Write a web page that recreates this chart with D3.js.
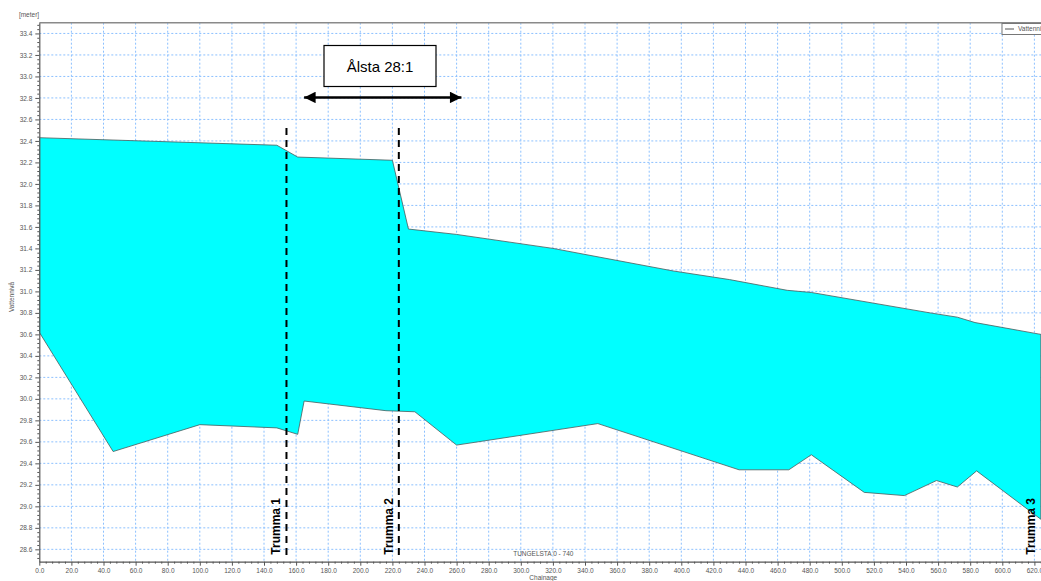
<!DOCTYPE html>
<html>
<head>
<meta charset="utf-8">
<script src="https://cdn.jsdelivr.net/npm/d3@7"></script>
<style>
html,body{margin:0;padding:0;background:#fff;}
svg{display:block;font-family:"Liberation Sans",Arial,sans-serif;}
</style>
</head>
<body>
<svg id="chart" width="1041" height="581"></svg>
<script>
// ---- data ----
const upperChainage = [0, 148, 161, 220, 230, 260, 320, 395, 430, 466, 481, 555, 572, 583, 624];
const upperLevel    = [32.43, 32.36, 32.25, 32.22, 31.58, 31.53, 31.40, 31.19, 31.11, 31.01, 30.99, 30.80, 30.76, 30.71, 30.60];
const lowerChainage = [0, 46, 100, 148, 161, 165, 216, 234, 260, 348, 436, 467, 481, 514, 539, 559, 572, 584, 624];
const lowerLevel    = [30.62, 29.51, 29.76, 29.73, 29.67, 29.98, 29.89, 29.88, 29.57, 29.77, 29.34, 29.34, 29.48, 29.13, 29.10, 29.24, 29.18, 29.33, 28.88];
const xTicks = d3.range(0, 621, 20);
const yTicks = d3.range(28.6, 33.41, 0.2).map(v => +v.toFixed(1));
const culverts = [{name: "Trumma 1", x: 154}, {name: "Trumma 2", x: 224}, {name: "Trumma 3", x: 624}];
const annotationLabel = "Ålsta 28:1";
const annotationRange = [165, 263];
const annotationLevel = 32.8;

// ---- layout ----
const svg = d3.select("#chart");
const L = 39.3, T = 22.7, B = 561.7, R = 1041;
const x = d3.scaleLinear().domain([0, 624]).range([L, L + 624 * 1.605]);
const y = d3.scaleLinear().domain([28.485, 33.5]).range([B, T]);

const defs = svg.append("defs");
defs.append("clipPath").attr("id", "clip")
  .append("rect").attr("x", L).attr("y", T).attr("width", R - L).attr("height", B - T);
defs.append("marker").attr("id", "arrowEnd").attr("viewBox", "0 0 10 10")
  .attr("refX", 10).attr("refY", 5).attr("markerWidth", 6.2).attr("markerHeight", 4.6)
  .attr("markerUnits", "strokeWidth").attr("orient", "auto")
  .append("path").attr("d", "M0,0 L10,5 L0,10 Z").attr("fill", "#000");
defs.append("marker").attr("id", "arrowStart").attr("viewBox", "0 0 10 10")
  .attr("refX", 0).attr("refY", 5).attr("markerWidth", 6.2).attr("markerHeight", 4.6)
  .attr("markerUnits", "strokeWidth").attr("orient", "auto")
  .append("path").attr("d", "M10,0 L0,5 L10,10 Z").attr("fill", "#000");

// grid
const grid = svg.append("g").attr("clip-path", "url(#clip)");
grid.selectAll("line.gx").data(xTicks.filter(d => d > 0)).join("line")
  .attr("x1", d => x(d)).attr("x2", d => x(d)).attr("y1", T).attr("y2", B)
  .attr("stroke", "#8cc0ff").attr("stroke-width", 1).attr("stroke-dasharray", "2,2");
grid.selectAll("line.gy").data(yTicks).join("line")
  .attr("x1", L).attr("x2", R).attr("y1", d => y(d)).attr("y2", d => y(d))
  .attr("stroke", "#8cc0ff").attr("stroke-width", 1).attr("stroke-dasharray", "2,2");

// area polygon
const upperPts = upperChainage.map((c, i) => [c, upperLevel[i]]);
const lowerPts = lowerChainage.map((c, i) => [c, lowerLevel[i]]).reverse();
const poly = upperPts.concat(lowerPts);
const line = d3.line().x(d => x(d[0])).y(d => y(d[1]));
svg.append("g").attr("clip-path", "url(#clip)")
  .append("path").attr("d", line(poly) + "Z")
  .attr("fill", "#00ffff").attr("stroke", "#4a5a5a").attr("stroke-width", 0.8);

// frame top
svg.append("line").attr("x1", L).attr("x2", R).attr("y1", T).attr("y2", T)
  .attr("stroke", "#8a8a8a").attr("stroke-width", 1.5);

// axes
const xAxis = d3.axisBottom(x).tickValues(xTicks).tickFormat(d3.format(".1f")).tickSize(4).tickSizeOuter(0);
const gx = svg.append("g").attr("transform", `translate(0,${B})`).call(xAxis);
gx.select(".domain").attr("stroke", "#555").attr("stroke-width", 1.2);
gx.selectAll(".tick line").attr("stroke", "#555");
gx.selectAll(".tick text").attr("font-size", 6.5).attr("fill", "#555").attr("font-family", "Liberation Sans, Arial");
const xMinor = d3.axisBottom(x).tickValues(d3.range(0, 625, 4).filter(v => v % 20 !== 0)).tickFormat("").tickSize(2).tickSizeOuter(0);
const gxm = svg.append("g").attr("transform", `translate(0,${B})`).call(xMinor);
gxm.select(".domain").remove();
gxm.selectAll(".tick line").attr("stroke", "#555");

const yAxis = d3.axisLeft(y).tickValues(yTicks).tickFormat(d3.format(".1f")).tickSize(4).tickSizeOuter(0);
const gy = svg.append("g").attr("transform", `translate(${L},0)`).call(yAxis);
gy.select(".domain").attr("stroke", "#555").attr("stroke-width", 1.2);
gy.selectAll(".tick line").attr("stroke", "#555");
gy.selectAll(".tick text").attr("font-size", 6.5).attr("fill", "#555").attr("font-family", "Liberation Sans, Arial");
const yMinorVals = d3.range(28.52, 33.5, 0.04).map(v => +v.toFixed(2)).filter(v => Math.abs((v * 5) - Math.round(v * 5)) > 1e-6);
const yMinor = d3.axisLeft(y).tickValues(yMinorVals).tickFormat("").tickSize(2).tickSizeOuter(0);
const gym = svg.append("g").attr("transform", `translate(${L},0)`).call(yMinor);
gym.select(".domain").remove();
gym.selectAll(".tick line").attr("stroke", "#555");

// axis titles
svg.append("text").attr("x", 29).attr("y", 17).attr("text-anchor", "middle")
  .attr("font-size", 6.5).attr("fill", "#555").text("[meter]");
svg.append("text").attr("transform", "translate(14,297) rotate(-90)").attr("text-anchor", "middle")
  .attr("font-size", 6.5).attr("fill", "#555").text("Vattennivå");
svg.append("text").attr("x", x(314)).attr("y", 580).attr("text-anchor", "middle")
  .attr("font-size", 6.5).attr("fill", "#555").text("Chainage");
svg.append("text").attr("x", x(314)).attr("y", 556).attr("text-anchor", "middle")
  .attr("font-size", 6.5).attr("fill", "#555").text("TUNGELSTA  0 - 740");

// legend
const lg = svg.append("g");
lg.append("rect").attr("x", 1002).attr("y", 23.5).attr("width", 60).attr("height", 11)
  .attr("fill", "#fff").attr("stroke", "#777").attr("stroke-width", 1);
lg.append("line").attr("x1", 1005).attr("x2", 1014).attr("y1", 29).attr("y2", 29).attr("stroke", "#555");
lg.append("text").attr("x", 1018).attr("y", 31.3).attr("font-size", 6.5).attr("fill", "#555").text("Vattennivå");

// culverts
culverts.forEach(c => {
  if (c.x < 600) {
    svg.append("line").attr("x1", x(c.x)).attr("x2", x(c.x)).attr("y1", 128).attr("y2", B - 2)
      .attr("stroke", "#000").attr("stroke-width", 2).attr("stroke-dasharray", "7,5");
  }
  svg.append("text").attr("transform", `translate(${x(c.x) - 6},${B - 7}) rotate(-90)`)
    .attr("font-size", 12).attr("font-weight", "bold").attr("fill", "#000").text(c.name);
});

// annotation
const ax0 = x(annotationRange[0]), ax1 = x(annotationRange[1]);
svg.append("line").attr("x1", ax0).attr("x2", ax1).attr("y1", y(annotationLevel) - 0.5).attr("y2", y(annotationLevel) - 0.5)
  .attr("stroke", "#000").attr("stroke-width", 2.5)
  .attr("marker-start", "url(#arrowStart)").attr("marker-end", "url(#arrowEnd)");
svg.append("rect").attr("x", 324).attr("y", 45.5).attr("width", 112).attr("height", 41)
  .attr("fill", "#fff").attr("stroke", "#000").attr("stroke-width", 1.2);
svg.append("text").attr("x", 380).attr("y", 72).attr("text-anchor", "middle")
  .attr("font-size", 15).attr("fill", "#000").text(annotationLabel);
</script>
</body>
</html>
